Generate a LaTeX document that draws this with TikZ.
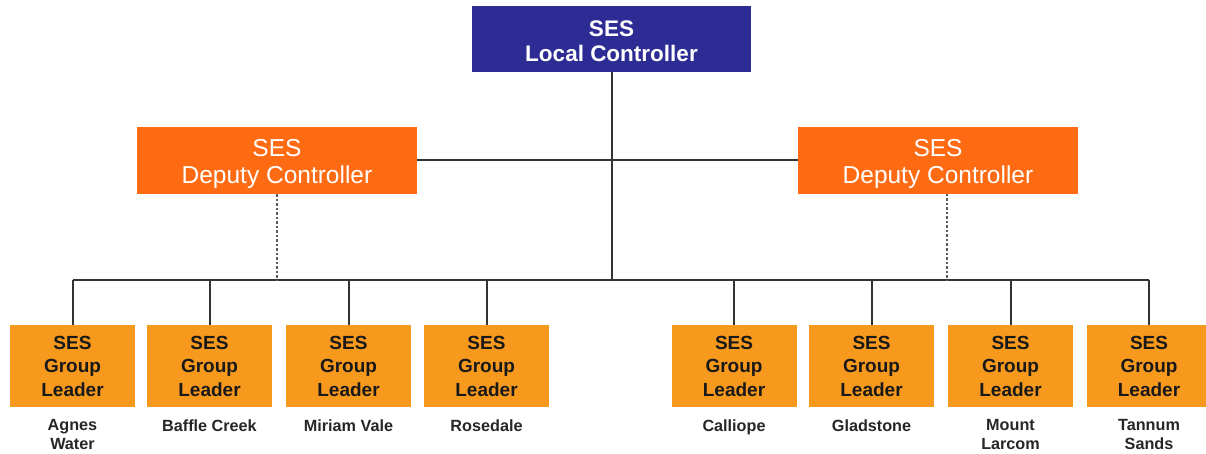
\documentclass[tikz,border=0pt]{standalone}
\usepackage{fontspec}
\setmainfont{Liberation Sans}
\usepackage{xcolor}
\usepackage{tikz}

\definecolor{sesblue}{HTML}{2D2C94}
\definecolor{sesdeputy}{HTML}{FF6B12}
\definecolor{sesgroup}{HTML}{F7991D}
\definecolor{linkgray}{HTML}{333333}

\tikzset{
  topbox/.style={fill=sesblue, text=white, minimum width=279pt, minimum height=66pt,
    inner sep=0pt, align=center, font=\fontsize{22.5}{25}\selectfont\bfseries},
  deputybox/.style={fill=sesdeputy, text=white, minimum width=280pt, minimum height=67pt,
    inner sep=0pt, align=center, font=\fontsize{24.5}{27}\selectfont},
  groupbox/.style={fill=sesgroup, text=black!90, minimum width=125pt, minimum height=82pt,
    inner sep=0pt, align=center, font=\fontsize{19}{23.5}\selectfont\bfseries},
  place/.style={anchor=north, inner sep=0pt, align=center, text=black!85,
    font=\fontsize{16.2}{18.5}\selectfont\bfseries},
  link/.style={draw=linkgray, line width=2pt},
  dotlink/.style={draw=linkgray!80, line width=2pt, dash pattern=on 2.5pt off 2pt}
}

\begin{document}
\begin{tikzpicture}[x=1pt, y=-1pt]
\useasboundingbox (0,0) rectangle (1206,454);

\node[topbox] (top) at (611.5,39) {\rule{0pt}{20pt}SES\\Local Controller};

\node[deputybox] (depL) at (277,160.5) {\rule{0pt}{24pt}SES\\Deputy Controller};
\node[deputybox] (depR) at (938,160.5) {\rule{0pt}{24pt}SES\\Deputy Controller};

\node[groupbox] (g1) at (72.5,366) {SES\\Group\\Leader};
\node[groupbox] (g2) at (209.5,366) {SES\\Group\\Leader};
\node[groupbox] (g3) at (348.5,366) {SES\\Group\\Leader};
\node[groupbox] (g4) at (486.5,366) {SES\\Group\\Leader};
\node[groupbox] (g5) at (734,366) {SES\\Group\\Leader};
\node[groupbox] (g6) at (871.5,366) {SES\\Group\\Leader};
\node[groupbox] (g7) at (1010.5,366) {SES\\Group\\Leader};
\node[groupbox] (g8) at (1149,366) {SES\\Group\\Leader};

\node[place] (p1) at (72.5,419.5) {Agnes\\Water};
\node[place] (p2) at (209.5,419.5) {Baffle Creek};
\node[place] (p3) at (348.5,419.5) {Miriam Vale};
\node[place] (p4) at (486.5,419.5) {Rosedale};
\node[place] (p5) at (734,419.5) {Calliope};
\node[place] (p6) at (871.5,419.5) {Gladstone};
\node[place] (p7) at (1010.5,419.5) {Mount\\Larcom};
\node[place] (p8) at (1149,419.5) {Tannum\\Sands};

\coordinate (bus) at (611.5,280);
\coordinate (dotR) at (947,194);

% deputies and bus
\draw[link] (depL.east) -- (depR.west);
\draw[link] (top.south) -- (bus);
\draw[link] (g1.north |- bus) -- (g8.north |- bus);

\draw[dotlink] (depL.south) -- (depL.south |- bus);
\draw[dotlink] (dotR) -- (dotR |- bus);

% group leaders
\draw[link] (g1.north) -- (g1.north |- bus);
\draw[link] (g2.north) -- (g2.north |- bus);
\draw[link] (g3.north) -- (g3.north |- bus);
\draw[link] (g4.north) -- (g4.north |- bus);
\draw[link] (g5.north) -- (g5.north |- bus);
\draw[link] (g6.north) -- (g6.north |- bus);
\draw[link] (g7.north) -- (g7.north |- bus);
\draw[link] (g8.north) -- (g8.north |- bus);
\end{tikzpicture}
\end{document}
